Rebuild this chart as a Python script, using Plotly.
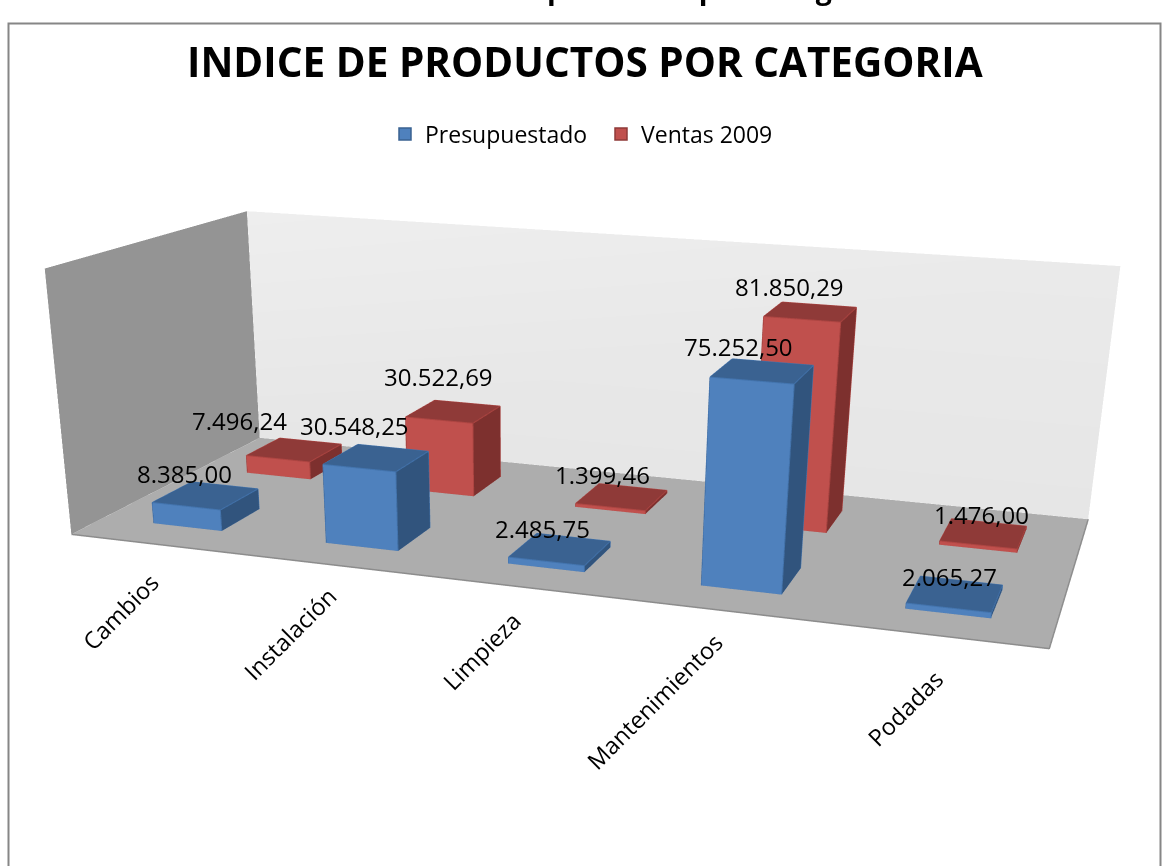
import plotly.graph_objects as go

categories = ["Cambios", "Instalación", "Limpieza", "Mantenimientos", "Podadas"]
presupuestado = [8385.00, 30548.25, 2485.75, 75252.50, 2065.27]
ventas_2009 = [7496.24, 30522.69, 1399.46, 81850.29, 1476.00]
series_names = ["Presupuestado", "Ventas 2009"]
z_max = 100000

W, H = 1163, 1600
ay, az, ex, ey, ez, tx, ty, tz, ux = 0.4339, 0.2703, 0.5952, -1.9031, 0.4611, 0.1621, -0.5355, -0.1990, -0.0143

label_xshift = [[-21, -22, -18, -24, -6], [-55, -15, -19, -21, -2]]
label_yshift = [[22, 32, 21, 25, 17], [29, 35, 22, 25, 19]]
cat_xshift = [11, 10, 6, 8, 15]
cat_yshift = [-20, -13, -15, -13, -25]

def py(px):
    return 1 - px / H
def pxx(px):
    return px / W

def box(xc, yc, val, bw=0.4, bd=0.4):
    x0, x1 = xc - bw/2, xc + bw/2
    y0, y1 = yc - bd/2, yc + bd/2
    return [x0,x1,x1,x0,x0,x1,x1,x0],[y0,y0,y1,y1,y0,y0,y1,y1],[0,0,0,0,val,val,val,val]

FACES = [(0,1,5,4,"front"),(1,2,6,5,"side"),(4,5,6,7,"top"),(3,2,6,7,"b"),(0,3,7,4,"l"),(0,1,2,3,"bot")]
EDGES = [(0,1),(1,5),(5,4),(4,0),(1,2),(2,6),(6,5),(6,7),(7,4)]

palette = [dict(front="#4F81BD", top="#3A6291", side="#31547D", edge="#4374AE"),
           dict(front="#C0504D", top="#8F3A38", side="#7D302E", edge="#AE4542")]
flat = dict(ambient=1, diffuse=0, specular=0, fresnel=0)

fig = go.Figure()
fig.add_trace(go.Mesh3d(x=[0,5,5,0], y=[0,0,2,2], z=[0,0,0,0], i=[0,0], j=[1,2], k=[2,3], color="#ADADAD",
    lighting=flat, flatshading=True, hoverinfo="skip", showlegend=False))
fig.add_trace(go.Mesh3d(x=[0,0,0,0], y=[0,2,2,0], z=[0,0,z_max,z_max], i=[0,0], j=[1,2], k=[2,3], color="#949494",
    lighting=flat, flatshading=True, hoverinfo="skip", showlegend=False))
fig.add_trace(go.Mesh3d(x=[0,5,5,0], y=[2,2,2,2], z=[0,0,z_max,z_max], i=[0,0], j=[1,2], k=[2,3],
    vertexcolor=["#E6E6E6","#E6E6E6","#EAEAEA","#EEEEEE"],
    lighting=flat, hoverinfo="skip", showlegend=False))
fig.add_trace(go.Scatter3d(x=[0,5,5], y=[0,0,2], z=[0,0,0], mode="lines", line=dict(color="#8C8C8C", width=3),
    hoverinfo="skip", showlegend=False))

for s, vals in enumerate([presupuestado, ventas_2009]):
    pal = palette[s]
    xs, ys, zs, ii, jj, kk, fc = [], [], [], [], [], [], []
    ex_, ey_, ez_ = [], [], []
    for c_i, v in enumerate(vals):
        bx, by, bz = box(c_i + 0.5, s + 0.5, v)
        n = len(xs)
        xs += bx; ys += by; zs += bz
        for a, b, c_, d, kind in FACES:
            col = pal.get(kind, pal["side"])
            ii += [n+a, n+a]; jj += [n+b, n+c_]; kk += [n+c_, n+d]; fc += [col, col]
        for a, b in EDGES:
            ex_ += [bx[a], bx[b], None]; ey_ += [by[a], by[b], None]; ez_ += [bz[a], bz[b], None]
    fig.add_trace(go.Mesh3d(x=xs, y=ys, z=zs, i=ii, j=jj, k=kk, facecolor=fc, name=series_names[s],
        showlegend=False, legendgroup=series_names[s], flatshading=True, hoverinfo="skip", lighting=flat))
    fig.add_trace(go.Scatter3d(x=ex_, y=ey_, z=ez_, mode="lines", line=dict(color=pal["edge"], width=2),
        hoverinfo="skip", showlegend=False, legendgroup=series_names[s]))
    fig.add_trace(go.Bar(x=[None], y=[None], name=series_names[s], legendgroup=series_names[s],
        marker=dict(color=pal["front"], line=dict(color=pal["top"], width=1.5))))

FONT = "Open Sans"
annots = []
for s, vals in enumerate([presupuestado, ventas_2009]):
    for c_i, v in enumerate(vals):
        txt = f"{v:,.2f}".replace(",", "§").replace(".", ",").replace("§", ".")
        annots.append(dict(x=c_i+0.5, y=s+0.5, z=v, text=txt, showarrow=False,
                           xshift=label_xshift[s][c_i], yshift=label_yshift[s][c_i],
                           font=dict(family=FONT, size=24, color="#000000")))
for c_i, name in enumerate(categories):
    annots.append(dict(x=c_i+0.5, y=0, z=0, text=name, showarrow=False, textangle=-45, xanchor="right", yanchor="top",
                       xshift=cat_xshift[c_i], yshift=cat_yshift[c_i], font=dict(family=FONT, size=23.5, color="#000000")))

axis = dict(visible=False, showbackground=False, showgrid=False, zeroline=False, showspikes=False)
fig.update_layout(
    width=W, height=H, autosize=False, margin=dict(l=0, r=0, t=0, b=0), paper_bgcolor="white", plot_bgcolor="rgba(0,0,0,0)",
    xaxis=dict(visible=False), yaxis=dict(visible=False),
    scene=dict(domain=dict(x=[0,1], y=[0,1]), bgcolor="rgba(0,0,0,0)", dragmode="orbit",
        xaxis=dict(range=[0,5], **axis), yaxis=dict(range=[0,2], **axis), zaxis=dict(range=[0,z_max], **axis),
        aspectmode="manual", aspectratio=dict(x=1, y=ay, z=az),
        camera=dict(eye=dict(x=ex,y=ey,z=ez), center=dict(x=tx,y=ty,z=tz),
                    up=dict(x=ux,y=0,z=1), projection=dict(type="perspective")),
        annotations=annots),
    legend=dict(orientation="h", x=pxx(385), xanchor="left", y=py(134), yanchor="middle", entrywidth=171, entrywidthmode="pixels",
                font=dict(family=FONT, size=23, color="#000000"), bgcolor="rgba(0,0,0,0)"),
    shapes=[dict(type="rect", xref="paper", yref="paper", x0=pxx(8.5), x1=pxx(1160.5), y0=py(1590), y1=py(23.5),
                 line=dict(color="#868686", width=2), fillcolor="rgba(0,0,0,0)", layer="below")],
    annotations=[
        dict(x=pxx(585), y=py(62), xref="paper", yref="paper", text="<b>INDICE DE PRODUCTOS POR CATEGORIA</b>",
             showarrow=False, xanchor="center", yanchor="middle", font=dict(family=FONT, size=40.5, color="#000000")),
        dict(x=pxx(409), y=py(9), xref="paper", yref="paper", text="<b>Indice de productos por categoria</b>",
             showarrow=False, xanchor="left", yanchor="bottom", font=dict(family=FONT, size=28.5, color="#000000")),
    ],
)
fig.write_html("out.html", config=dict(displayModeBar=False),
               post_script="document.body.style.margin='0';document.documentElement.style.overflow='hidden';")
